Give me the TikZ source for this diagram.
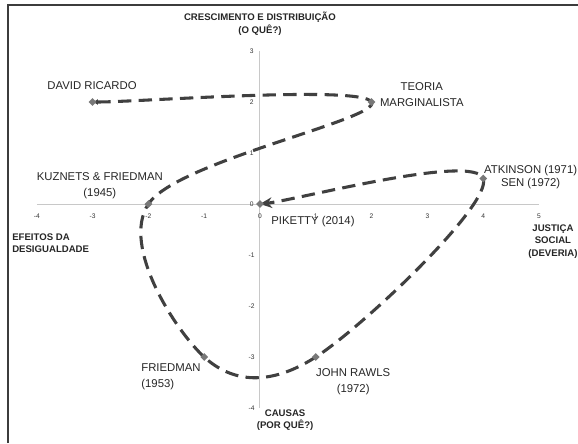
\documentclass[tikz,border=0pt]{standalone}
\usepackage{fontspec}
\setmainfont{Liberation Sans}
\usepackage{xcolor}
\usetikzlibrary{shapes.geometric,arrows.meta}

\begin{document}
\begin{tikzpicture}[x=41.85pt,y=38.25pt,
  lbl/.style={font=\fontsize{8.5}{12}\selectfont,align=center,inner sep=0pt,text=black!85},
  axlbl/.style={font=\bfseries\fontsize{7.2}{9.4}\selectfont,align=center,inner sep=0pt,text=black!85},
  ticklbl/.style={font=\fontsize{5}{6}\selectfont,inner sep=0pt,text=black!80},
  ptmark/.style={diamond,fill=myMark,inner sep=0pt,minimum size=6pt}]
\definecolor{myFrame}{RGB}{60,60,60}
\definecolor{myAxis}{RGB}{200,200,200}
\definecolor{myLine}{RGB}{64,64,64}
\definecolor{myMark}{RGB}{120,120,120}
\useasboundingbox (-4.659,-4.686) rectangle (5.699,4.0);
\draw[myFrame,line width=1.5pt] (-4.516,-4.686) -- (-4.516,3.902) -- (5.699,3.902);
\draw[myAxis,line width=0.75pt] (-4,0) -- (5,0);
\draw[myAxis,line width=0.75pt] (0,3) -- (0,-4);
\foreach \x in {-4,...,5}
  \node[ticklbl] (tx\x) at (\x,-0.235) {\x};
\foreach \y in {-4,...,3}
  \node[ticklbl] (ty\y) at (-0.15,\y) {\y};
\coordinate (ricardo) at (-3,2);
\coordinate (teoria) at (2,2);
\coordinate (kuznets) at (-2,0);
\coordinate (friedman) at (-1,-3);
\coordinate (rawls) at (1,-3);
\coordinate (atkinson) at (4,0.5);
\coordinate (piketty) at (0,0);
\draw[myLine,line width=2.3pt,dash pattern=on 10pt off 5.5pt,{Latex[length=4pt,width=4.5pt]}-{Stealth[length=9pt,width=8pt]}]
  (ricardo) .. controls (-2.167,2) and (1.833,2.333) .. (teoria)
  .. controls (2.167,1.667) and (-1.5,0.833) .. (kuznets)
  .. controls (-2.5,-0.833) and (-1.5,-2.5) .. (friedman)
  .. controls (-0.5,-3.5) and (0.167,-3.583) .. (rawls)
  .. controls (1.833,-2.417) and (4.167,0) .. (atkinson)
  .. controls (3.833,1) and (0.667,0.083) .. (piketty);
\foreach \p in {ricardo,teoria,kuznets,friedman,rawls,atkinson,piketty}
  \node[ptmark] (\p-m) at (\p) {};
\node[axlbl] (crescimento) at (0,3.53) {CRESCIMENTO E DISTRIBUIÇÃO\\(O QUÊ?)};
\node[axlbl] (justica) at (5.25,-0.73) {JUSTIÇA\\SOCIAL\\(DEVERIA)};
\node[axlbl,align=left,anchor=west] (efeitos) at (-4.444,-0.765) {EFEITOS DA\\DESIGUALDADE};
\node[axlbl] (causas) at (0.45,-4.24) {CAUSAS\\(POR QUÊ?)};
\node[lbl] (ricardolbl) at (-3.01,2.33) {DAVID RICARDO};
\node[lbl] (teorialbl) at (2.90,2.14) {TEORIA\\MARGINALISTA};
\node[lbl] (kuznetslbl) at (-2.87,0.35) {KUZNETS \& FRIEDMAN\\(1945)};
\node[lbl] (pikettylbl) at (0.95,-0.35) {PIKETTY (2014)};
\node[lbl] (atkinsonlbl) at (4.85,0.53) {ATKINSON (1971)\\[-2pt]SEN (1972)};
\node[lbl,align=left,anchor=west] (friedmanlbl) at (-2.13,-3.39) {FRIEDMAN\\(1953)};
\node[lbl] (rawlslbl) at (1.67,-3.49) {JOHN RAWLS\\(1972)};
\end{tikzpicture}
\end{document}
